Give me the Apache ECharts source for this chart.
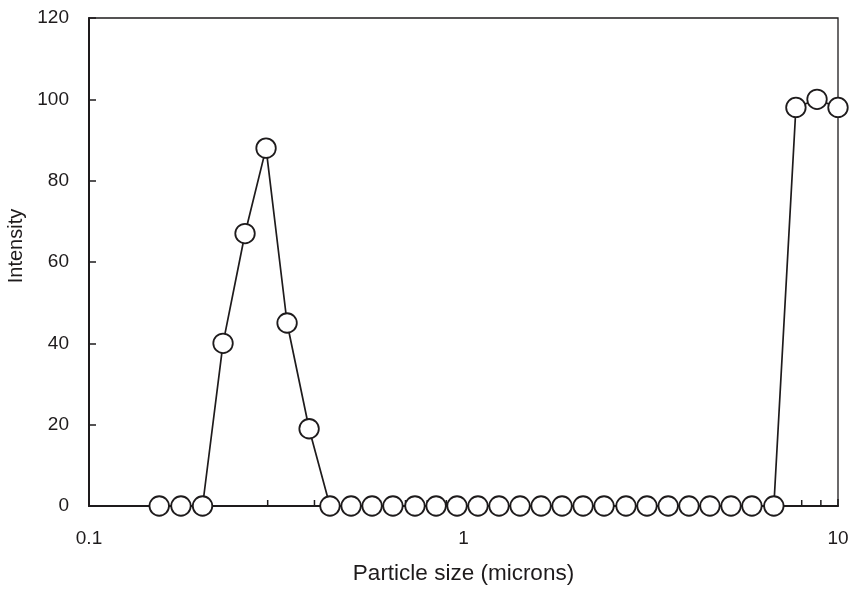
<!DOCTYPE html>
<html>
<head>
<meta charset="utf-8">
<script src="https://cdn.jsdelivr.net/npm/echarts@6/dist/echarts.min.js"></script>
<style>
  html, body { margin: 0; padding: 0; background: #fff; }
  #chart { width: 855px; height: 591px; }
</style>
</head>
<body>
<div id="chart"></div>
<script>
// Particle size distribution (log-spaced size classes)
const sizes = [0.154, 0.176, 0.201, 0.228, 0.261, 0.297, 0.338, 0.387, 0.440, 0.501,
               0.570, 0.648, 0.742, 0.845, 0.961, 1.093, 1.244, 1.416, 1.611, 1.833,
               2.086, 2.373, 2.716, 3.09, 3.52, 4.00, 4.55, 5.18, 5.89, 6.74,
               7.72, 8.79, 10];
const intensity = [0, 0, 0, 40, 67, 88, 45, 19, 0, 0,
                   0, 0, 0, 0, 0, 0, 0, 0, 0, 0,
                   0, 0, 0, 0, 0, 0, 0, 0, 0, 0,
                   98, 100, 98];
const minorTickValues = [0.2, 0.3, 0.4, 0.5, 0.6, 0.7, 0.8, 0.9, 2, 3, 4, 5, 6, 7, 8, 9];
const xLabels = ['0.1', '1', '10'];

const ink = '#1e1b1c';
const font = 'Liberation Sans, Arial, Helvetica, sans-serif';

const chart = echarts.init(document.getElementById('chart'), null, { renderer: 'canvas' });

chart.setOption({
  animation: false,
  backgroundColor: '#fff',
  grid: {
    left: 89, right: 17, top: 18, bottom: 85,
    containLabel: false, outerBoundsMode: 'none',
    show: true, borderColor: ink, borderWidth: 1.3, backgroundColor: 'transparent'
  },
  xAxis: {
    type: 'log', logBase: 10, min: 0.1, max: 10,
    name: 'Particle size (microns)', nameLocation: 'middle', nameGap: 56,
    nameTextStyle: { color: ink, fontSize: 22.5, fontFamily: font },
    axisLine: { lineStyle: { color: ink, width: 2 } },
    axisTick: { inside: true, length: 7, lineStyle: { color: ink, width: 1.5 } },
    axisLabel: {
      color: ink, fontSize: 19, fontFamily: font, margin: 23,
      formatter: v => xLabels.find(s => Math.abs(parseFloat(s) - v) < 1e-9) || ''
    },
    splitLine: { show: false }
  },
  yAxis: {
    type: 'value', min: 0, max: 120, interval: 20,
    name: 'Intensity', nameLocation: 'middle', nameGap: 63,
    nameTextStyle: { color: ink, fontSize: 20, fontFamily: font, padding: [0, 0, 0, 32] },
    axisLine: { show: true, lineStyle: { color: ink, width: 2 } },
    axisTick: { show: true, inside: true, length: 7, lineStyle: { color: ink, width: 1.5 } },
    axisLabel: { color: ink, fontSize: 19, fontFamily: font, margin: 20 },
    splitLine: { show: false }
  },
  series: [
    {
      // short inward minor ticks at 2..9 of each decade
      type: 'custom',
      z: 1,
      silent: true,
      data: minorTickValues.map(v => [v, 0]),
      renderItem: (params, api) => {
        const p = api.coord([api.value(0), 0]);
        return {
          type: 'line',
          shape: { x1: p[0], y1: p[1], x2: p[0], y2: p[1] - 6 },
          style: { stroke: ink, lineWidth: 1.5 }
        };
      }
    },
    {
      type: 'line',
      z: 3,
      clip: false,
      data: sizes.map((s, i) => [s, intensity[i]]),
      symbol: 'circle',
      symbolSize: 19.5,
      showAllSymbol: true,
      lineStyle: { color: ink, width: 1.7 },
      itemStyle: { color: '#fff', borderColor: ink, borderWidth: 1.8 }
    }
  ]
});
</script>
</body>
</html>
